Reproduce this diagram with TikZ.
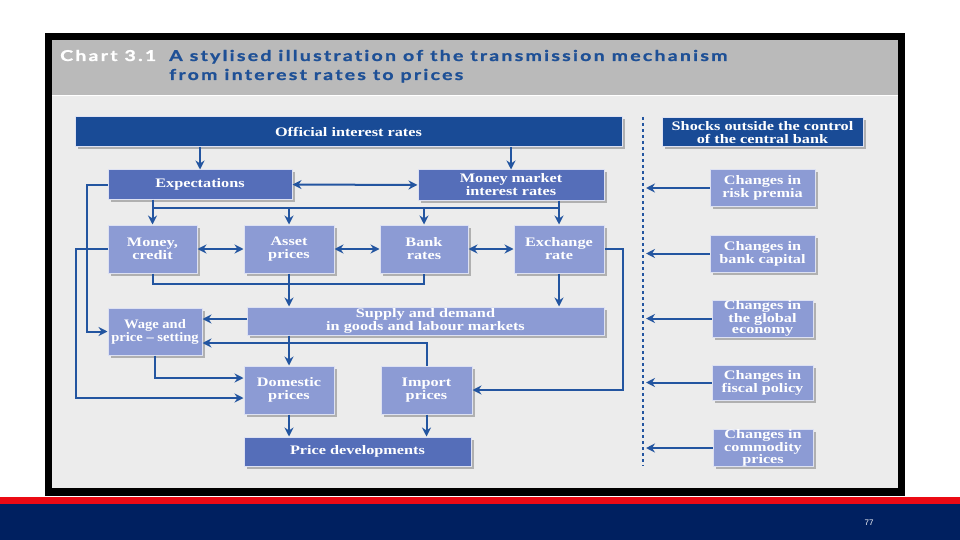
\documentclass[tikz,border=0pt]{standalone}
\usepackage{fontspec}
\setmainfont{Liberation Serif}
\newfontfamily\boxfont[FakeStretch=1.25,Ligatures=TeX]{Liberation Serif}
\newfontfamily\boxfontn[FakeStretch=1.12,Ligatures=TeX]{Liberation Serif}
\newfontfamily\titlefont[FakeStretch=1.3,LetterSpace=15,FakeBold=1.2,Ligatures=NoCommon]{Lato}
\newfontfamily\pagefont{Liberation Sans}
\usetikzlibrary{arrows.meta,shadows,calc}
\definecolor{darkbox}{RGB}{25,75,150}
\definecolor{midbox}{RGB}{85,110,185}
\definecolor{lightbox}{RGB}{140,155,212}
\definecolor{conn}{RGB}{35,85,160}
\definecolor{chartbg}{RGB}{236,236,236}
\definecolor{titlebg}{RGB}{186,186,186}
\definecolor{titleblue}{RGB}{30,80,150}
\definecolor{navy}{RGB}{0,32,96}
\definecolor{stripe}{RGB}{235,10,20}
\tikzset{
  box/.style={inner sep=0pt, align=center, text=white,
    font=\boxfont\bfseries\fontsize{13}{13}\selectfont,
    draw=white!70!lightbox, line width=1pt,
    drop shadow={shadow xshift=2.5pt, shadow yshift=-2.5pt, fill=black, opacity=0.25}},
  dbox/.style={box, fill=darkbox},
  mbox/.style={box, fill=midbox},
  lbox/.style={box, fill=lightbox},
  sbox/.style={lbox, font=\boxfont\bfseries\fontsize{13}{11.5}\selectfont},
  conline/.style={draw=conn, line width=2pt},
  arr/.style={conline, -{Stealth[length=9pt,width=9pt]}},
  darr/.style={conline, {Stealth[length=9pt,width=9pt]}-{Stealth[length=9pt,width=9pt]}},
  ttl/.style={inner sep=0pt, anchor=base west, font=\titlefont\bfseries\fontsize{15}{15}\selectfont}
}
\begin{document}
\begin{tikzpicture}[x=1pt,y=-1pt]
\useasboundingbox (0,0) rectangle (960,540);
% slide and frame
\fill[white] (0,0) rectangle (960,540);
\fill[black] (45,33) rectangle (905,496);
\fill[chartbg] (52,40) rectangle (898,488);
\fill[titlebg] (52,40) rectangle (898,95);
\draw[white, line width=1pt] (52,96) -- (898,96);
\fill[stripe] (0,497) rectangle (960,504);
\fill[navy] (0,504) rectangle (960,540);
\node[text=white, font=\pagefont\fontsize{8}{8}\selectfont] (pg) at (869,523) {77};
% title
\node[ttl, text=white] (ct) at (60,61) {Chart 3.1};
\node[ttl, text=titleblue] (t1) at (169,61) {A stylised illustration of the transmission mechanism};
\node[ttl, text=titleblue] (t2) at (169,80) {from interest rates to prices};
% boxes
\node[dbox, minimum width=547pt, minimum height=30pt] (off) at (348.5,132) {Official interest rates};
\node[dbox, minimum width=201pt, minimum height=29pt] (shk) at (762.5,132.5) {Shocks outside the control\\of the central bank};
\node[mbox, minimum width=184pt, minimum height=29pt] (exp) at (200,184.5) {Expectations};
\node[mbox, minimum width=186pt, minimum height=30pt] (mm) at (511,185) {Money market\\interest rates};
\node[lbox, minimum width=89pt, minimum height=48pt] (mc) at (152.5,249) {Money,\\credit};
\node[lbox, minimum width=90pt, minimum height=48pt] (ap) at (289,249) {Asset\\prices};
\node[lbox, minimum width=88pt, minimum height=48pt] (br) at (424,249) {Bank\\rates};
\node[lbox, minimum width=90pt, minimum height=48pt] (ex) at (559,249) {Exchange\\rate};
\node[lbox, minimum width=357pt, minimum height=28pt] (sd) at (425.5,321) {Supply and demand\\in goods and labour markets};
\node[lbox, minimum width=94pt, minimum height=47pt, font=\boxfontn\bfseries\fontsize{13}{13}\selectfont] (wp) at (155,331.5) {Wage and\\price – setting};
\node[lbox, minimum width=90pt, minimum height=48pt] (dp) at (289,390) {Domestic\\prices};
\node[lbox, minimum width=91pt, minimum height=48pt] (ip) at (426.5,390) {Import\\prices};
\node[mbox, minimum width=227pt, minimum height=29pt] (pd) at (357.5,451.5) {Price developments};
\node[sbox, minimum width=105pt, minimum height=36pt] (c1) at (762.5,188) {Changes in\\risk premia};
\node[sbox, minimum width=105pt, minimum height=37pt] (c2) at (762.5,253.5) {Changes in\\bank capital};
\node[sbox, minimum width=101pt, minimum height=37pt] (c3) at (762.5,318.5) {Changes in\\the global\\economy};
\node[sbox, minimum width=101pt, minimum height=35pt] (c4) at (762.5,382.5) {Changes in\\fiscal policy};
\node[sbox, minimum width=100pt, minimum height=36pt] (c5) at (763,448) {Changes in\\commodity\\prices};
% helper coordinates
\coordinate (bus1) at (0,208);
\coordinate (bus2) at (0,284);
\coordinate (lx1) at (87,0);
\coordinate (lx2) at (76,0);
\coordinate (rx) at (623,0);
\coordinate (dtop) at (643,117);
\coordinate (dbot) at (643,466);
\coordinate (dl) at (646,0);
% dotted separator
\draw[conn, line width=2.5pt, dash pattern=on 3pt off 3pt] (dtop) -- (dbot);
% connectors
\draw[arr] (exp.north |- off.south) -- (exp.north);
\draw[arr] (mm.north |- off.south) -- (mm.north);
\draw[darr] (exp.east) -- (mm.west);
\draw[arr] (exp.west) -- (exp.west -| lx1) |- (wp.west);
\draw[arr] (mc.west) -- (mc.west -| lx2) |- ($(dp.west)+(0,8)$);
\draw[arr] (mc.north |- exp.south) -- (mc.north);
\draw[conline] (mc.north |- bus1) -- (ex.north |- bus1);
\draw[arr] (ex.north |- mm.south) -- (ex.north);
\draw[arr] (ap.north |- bus1) -- (ap.north);
\draw[arr] (br.north |- bus1) -- (br.north);
\draw[darr] (mc.east) -- (ap.west);
\draw[darr] (ap.east) -- (br.west);
\draw[darr] (br.east) -- (ex.west);
\draw[conline] (mc.south) -- (mc.south |- bus2) -- (br.south |- bus2) -- (br.south);
\draw[arr] (ap.south) -- (sd.north -| ap.south);
\draw[arr] (ex.south) -- (sd.north -| ex.south);
\draw[arr] (ex.east) -- (ex.east -| rx) |- (ip.east);
\draw[arr] (sd.west |- 0,319) -- (wp.east |- 0,319);
\draw[arr] (ip.north) |- (wp.east |- 0,343);
\draw[arr] (dp.north |- sd.south) -- (dp.north);
\draw[arr] (wp.south) |- ($(dp.west)+(0,-12)$);
\draw[arr] (dp.south) -- (pd.north -| dp.south);
\draw[arr] (ip.south) -- (pd.north -| ip.south);
\foreach \c in {c1,c2,c3,c4,c5} \draw[arr] (\c.west) -- (\c.west -| dl);
\end{tikzpicture}
\end{document}
